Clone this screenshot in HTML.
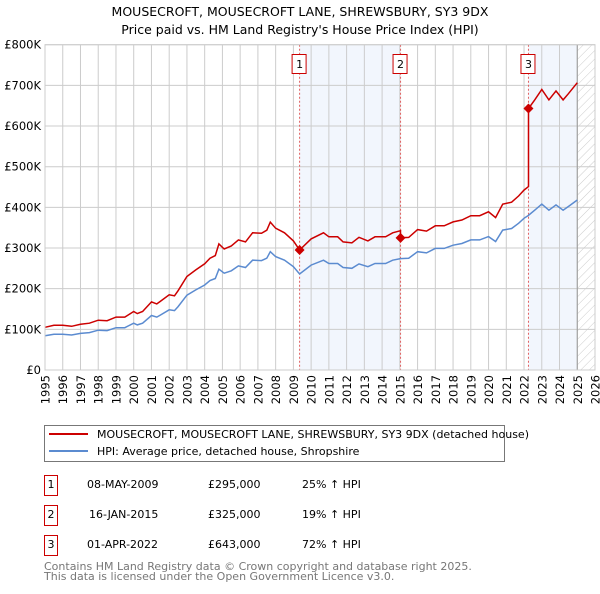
<!DOCTYPE html>
<html><head><meta charset="utf-8">
<style>
body{margin:0;background:#fff;width:600px;height:590px;overflow:hidden;font-family:"DejaVu Sans","Liberation Sans",sans-serif;}
svg text{font-family:"DejaVu Sans","Liberation Sans",sans-serif;}
</style></head>
<body>
<svg id="chart" width="600" height="590" viewBox="0 0 600 590" xmlns="http://www.w3.org/2000/svg">
<defs>
<pattern id="hatch" patternUnits="userSpaceOnUse" width="6" height="6" patternTransform="rotate(45)">
<line x1="0" y1="0" x2="0" y2="6" stroke="#ccc" stroke-width="1"/>
</pattern>
</defs>
<text x="300" y="16" text-anchor="middle" font-size="12.5" fill="#000">MOUSECROFT, MOUSECROFT LANE, SHREWSBURY, SY3 9DX</text>
<text x="300" y="34" text-anchor="middle" font-size="12.5" fill="#000">Price paid vs. HM Land Registry's House Price Index (HPI)</text>
<g id="plot"></g>
<g>
<rect x="44.5" y="425.5" width="460" height="36" fill="#fff" stroke="#777"/>
<line x1="49" y1="434" x2="88" y2="434" stroke="#cc0000" stroke-width="2"/>
<text x="97" y="438" font-size="11">MOUSECROFT, MOUSECROFT LANE, SHREWSBURY, SY3 9DX (detached house)</text>
<line x1="49" y1="451" x2="88" y2="451" stroke="#5b8bd0" stroke-width="2"/>
<text x="97" y="455" font-size="11">HPI: Average price, detached house, Shropshire</text>
</g>
<g font-size="11">
<rect x="44.5" y="475.5" width="13" height="20" fill="#fff" stroke="#cc0000"/><text x="51" y="488" text-anchor="middle">1</text>
<text x="87" y="488">08-MAY-2009</text><text x="208" y="488">£295,000</text><text x="302" y="488">25% ↑ HPI</text>
<rect x="44.5" y="505.5" width="13" height="20" fill="#fff" stroke="#cc0000"/><text x="51" y="518" text-anchor="middle">2</text>
<text x="89" y="518">16-JAN-2015</text><text x="208" y="518">£325,000</text><text x="302" y="518">19% ↑ HPI</text>
<rect x="44.5" y="535.5" width="13" height="20" fill="#fff" stroke="#cc0000"/><text x="51" y="548" text-anchor="middle">3</text>
<text x="87" y="548">01-APR-2022</text><text x="208" y="548">£643,000</text><text x="302" y="548">72% ↑ HPI</text>
</g>
<text x="44" y="570" font-size="11" fill="#777">Contains HM Land Registry data © Crown copyright and database right 2025.</text>
<text x="44" y="580" font-size="11" fill="#777">This data is licensed under the Open Government Licence v3.0.</text>
</svg>
<script>
const hpiYears=[1995,1995.5,1996,1996.5,1997,1997.5,1998,1998.5,1999,1999.5,2000,2000.2,2000.5,2001,2001.3,2001.5,2002,2002.3,2002.5,2003,2003.5,2004,2004.3,2004.6,2004.8,2005.1,2005.5,2005.9,2006.3,2006.7,2007.2,2007.5,2007.7,2008,2008.5,2009,2009.35,2010,2010.7,2011,2011.5,2011.8,2012.3,2012.7,2013.2,2013.6,2014.2,2014.6,2015.04,2015.5,2016,2016.5,2017,2017.5,2018,2018.5,2019,2019.5,2020,2020.4,2020.8,2021.3,2021.7,2022.0,2022.24,2022.6,2023.0,2023.4,2023.8,2024.2,2024.5,2025.0];
const hpiValues=[84,88,88,86,90,92,98,97,104,104,115,111,115,134,130,135,148,146,156,184,197,209,220,225,248,238,244,256,252,270,269,275,291,279,270,254,236,258,270,262,262,252,250,261,254,262,262,270,274,275,291,288,299,299,307,311,320,320,328,316,344,348,361,373,380,393,408,393,406,393,402,418];
const saleYears=[2009.35,2015.04,2022.25];
const salePrices=[295,325,643];
const saleLabels=["1","2","3"];
const yTicks=[0,100,200,300,400,500,600,700,800];
const yTickLabels=["£0","£100K","£200K","£300K","£400K","£500K","£600K","£700K","£800K"];
const xTicks=[1995,1996,1997,1998,1999,2000,2001,2002,2003,2004,2005,2006,2007,2008,2009,2010,2011,2012,2013,2014,2015,2016,2017,2018,2019,2020,2021,2022,2023,2024,2025,2026];

const X0=45,X1=595,Y0=370,Y1=44.7;
const xs=y=>X0+(y-1995)/(2026-1995)*(X1-X0);
const ys=v=>Y0-v/800*(Y0-Y1);
const NS="http://www.w3.org/2000/svg";
const g=document.getElementById('plot');
function el(t,a,p){const e=document.createElementNS(NS,t);for(const k in a)e.setAttribute(k,a[k]);(p||g).appendChild(e);return e;}
function hpiAt(y){for(let i=0;i<hpiYears.length-1;i++){if(y<=hpiYears[i+1]){const t=(y-hpiYears[i])/(hpiYears[i+1]-hpiYears[i]);return hpiValues[i]+t*(hpiValues[i+1]-hpiValues[i]);}}return hpiValues[hpiValues.length-1];}
const ratios=saleYears.map((y,i)=>salePrices[i]/hpiAt(y));
function ratioAt(y){let r=ratios[0];for(let i=0;i<saleYears.length;i++)if(y>=saleYears[i])r=ratios[i];return r;}

let b=el('rect',{x:xs(saleYears[0]),y:Y1,width:xs(saleYears[1])-xs(saleYears[0]),height:Y0-Y1,fill:'#eef3fc',opacity:0.75});

let b2=el('rect',{x:xs(saleYears[2]),y:Y1,width:xs(2025.0)-xs(saleYears[2]),height:Y0-Y1,fill:'#eef3fc',opacity:0.75});

let h=el('rect',{x:xs(2025.0),y:Y1,width:X1-xs(2025.0),height:Y0-Y1,fill:'url(#hatch)'});

yTicks.forEach((v,i)=>{
 const l=el('line',{x1:X0,x2:X1,y1:ys(v),y2:ys(v),stroke:'#ccc','stroke-width':1});
 
 const t=el('text',{x:X0-4,y:ys(v)+4,'text-anchor':'end','font-size':11.5});t.textContent=yTickLabels[i];
 
});
xTicks.forEach(y=>{
 const l=el('line',{x1:xs(y),x2:xs(y),y1:Y1,y2:Y0,stroke:'#ccc','stroke-width':1});
 
 const tx=xs(y)+4.5,ty=375;
 const t=el('text',{x:tx,y:ty,'text-anchor':'end','font-size':11.5,transform:`rotate(-90 ${tx} ${ty})`});t.textContent=y;
 
});
let edge=el('line',{x1:xs(2025.0),x2:xs(2025.0),y1:Y1,y2:Y0,stroke:'#999','stroke-width':1});

saleYears.forEach((y,i)=>{
 const l=el('line',{x1:xs(y),x2:xs(y),y1:Y1,y2:Y0,stroke:'#e06060','stroke-width':1,'stroke-dasharray':'2,2'});
 
 const r=el('rect',{x:xs(y)-7.5,y:54.5,width:14,height:19,fill:'#fff',stroke:'#cc0000'});
 
 const t=el('text',{x:xs(y),y:68,'text-anchor':'middle','font-size':11});t.textContent=saleLabels[i];
 
});
const hp=hpiYears.map((y,i)=>xs(y).toFixed(1)+','+ys(hpiValues[i]).toFixed(1)).join(' ');
const hl=el('polyline',{points:hp,fill:'none',stroke:'#5b8bd0','stroke-width':1.5});

let pts=[];
const allY=hpiYears.concat(saleYears).sort((a,b)=>a-b);
allY.forEach(y=>{
 if(saleYears.includes(y)){const i=saleYears.indexOf(y);const prev=i>0?ratios[i-1]:ratios[0];pts.push([y,hpiAt(y)*prev]);pts.push([y,salePrices[i]]);}
 else pts.push([y,hpiAt(y)*ratioAt(y)]);
});
const rl=el('polyline',{points:pts.map(p=>xs(p[0]).toFixed(1)+','+ys(p[1]).toFixed(1)).join(' '),fill:'none',stroke:'#cc0000','stroke-width':1.5});

saleYears.forEach((y,i)=>{
 const cx=xs(y),cy=ys(salePrices[i]);
 const d=el('polygon',{points:`${cx},${cy-5} ${cx+5},${cy} ${cx},${cy+5} ${cx-5},${cy}`,fill:'#cc0000'});
 
});
let ax=el('rect',{x:X0,y:Y1,width:X1-X0,height:Y0-Y1,fill:'none',stroke:'#ccc'});

</script>
</body></html>
